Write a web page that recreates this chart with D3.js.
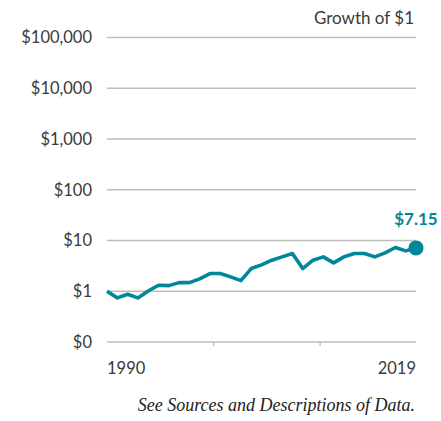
<!DOCTYPE html>
<html lang="en">
  <head>
    <meta charset="utf-8">
    <title>Growth of $1</title>
    <script src="https://d3js.org/d3.v7.min.js"></script>
    <style>
      body { margin: 0; background: #fff; }
      text { font-family: Lato, "Open Sans", sans-serif; fill: #3a3a3a; }
    </style>
  </head>
  <body>
    <script type="text/javascript">
    // growth of $1, year-end values (start = $1)
    var values = [1.00, 0.74, 0.87, 0.74, 1.01, 1.31, 1.29, 1.48, 1.48, 1.75,
                  2.23, 2.23, 1.92, 1.62, 2.80, 3.31, 4.09, 4.75, 5.53, 2.80,
                  4.09, 4.75, 3.62, 4.75, 5.53, 5.53, 4.75, 5.70, 7.27, 6.24, 7.15];
    var yTicks = [0.1, 1, 10, 100, 1000, 10000, 100000];
    var yTickLabels = ["$0", "$1", "$10", "$100", "$1,000", "$10,000", "$100,000"];
    var xTicks = [1990, 2000, 2010, 2019];
    var xLabels = [1990, 2019];
    var endLabel = "$7.15";

    var width = 441, height = 421;
    var plotLeft = 107, plotRight = 416, plotTop = 37.5, plotBottom = 342;

    var svg = d3.select("body").append("svg")
      .attr("width", width)
      .attr("height", height);

    var x = d3.scaleLinear().domain([0, values.length - 1]).range([plotLeft, plotRight]);
    var xYear = d3.scaleLinear().domain([1990, 2019]).range([plotLeft, plotRight]);
    var y = d3.scaleLog().domain([0.1, 100000]).range([plotBottom, plotTop]);

    // gridlines + y labels
    svg.append("g").selectAll("line")
      .data(yTicks)
      .enter().append("line")
      .attr("x1", plotLeft).attr("x2", plotRight)
      .attr("y1", function(d) { return y(d); })
      .attr("y2", function(d) { return y(d); })
      .attr("stroke", "#bdbdbd")
      .attr("stroke-width", 1.3);

    svg.append("g").selectAll("text")
      .data(yTicks)
      .enter().append("text")
      .attr("x", 92)
      .attr("y", function(d) { return y(d); })
      .attr("dy", "0.35em")
      .attr("text-anchor", "end")
      .style("font-size", "16.5px")
      .text(function(d, i) { return yTickLabels[i]; });

    // small x ticks on the baseline
    svg.append("g").selectAll("line")
      .data(xTicks.slice(1, 3))
      .enter().append("line")
      .attr("x1", function(d) { return xYear(d); })
      .attr("x2", function(d) { return xYear(d); })
      .attr("y1", plotBottom).attr("y2", plotBottom + 4)
      .attr("stroke", "#bdbdbd")
      .attr("stroke-width", 1.3);

    svg.append("g").selectAll("text")
      .data(xLabels)
      .enter().append("text")
      .attr("x", function(d) { return xYear(d); })
      .attr("y", 374)
      .attr("text-anchor", function(d, i) { return i === 0 ? "start" : "end"; })
      .style("font-size", "16.5px")
      .text(function(d) { return d; });

    // the line
    var valueline = d3.line()
      .x(function(d, i) { return x(i); })
      .y(function(d) { return y(d); });

    svg.append("path")
      .datum(values)
      .attr("d", valueline)
      .attr("fill", "none")
      .attr("stroke", "#00879a")
      .attr("stroke-width", 3.6)
      .attr("stroke-linejoin", "round");

    var last = values.length - 1;
    svg.append("circle")
      .attr("cx", x(last))
      .attr("cy", y(values[last]))
      .attr("r", 7.5)
      .attr("fill", "#00879a");

    svg.append("text")
      .attr("x", x(last))
      .attr("y", y(values[last]) - 23)
      .attr("text-anchor", "middle")
      .style("font-size", "17px")
      .style("font-weight", "bold")
      .style("fill", "#00879a")
      .text(endLabel);

    svg.append("text")
      .attr("x", 414)
      .attr("y", 24)
      .attr("text-anchor", "end")
      .style("font-size", "17px")
      .text("Growth of $1");

    svg.append("text")
      .attr("x", 415)
      .attr("y", 411)
      .attr("text-anchor", "end")
      .style("font-family", "'Liberation Serif', 'DejaVu Serif', serif")
      .style("font-style", "italic")
      .style("font-size", "18px")
      .style("fill", "#222")
      .text("See Sources and Descriptions of Data.");
    </script>
  </body>
</html>
